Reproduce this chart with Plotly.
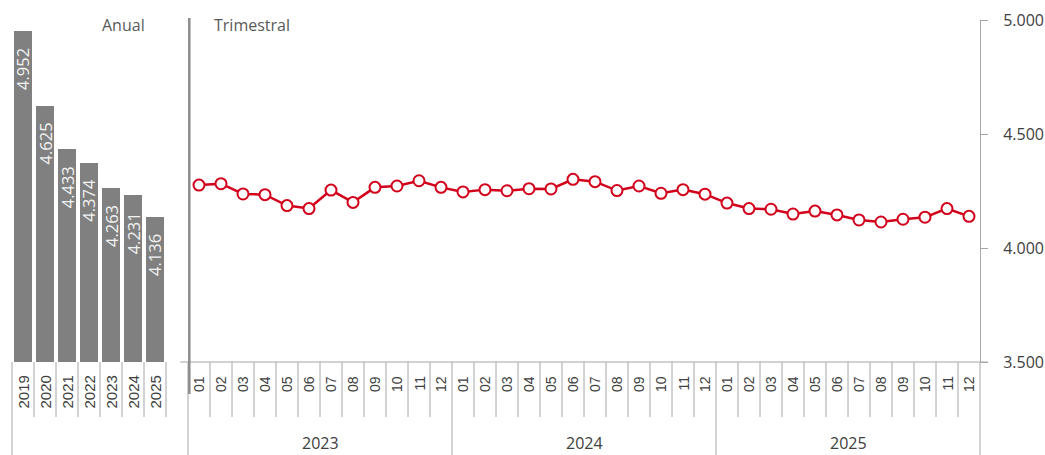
import plotly.graph_objects as go

# ---- data ----
annual_years = ["2019", "2020", "2021", "2022", "2023", "2024", "2025"]
annual_values = [4952, 4625, 4433, 4374, 4263, 4231, 4136]

group_years = ["2023", "2024", "2025"]
months = ["01", "02", "03", "04", "05", "06", "07", "08", "09", "10", "11", "12"]
monthly_values = [
    4276, 4282, 4237, 4234, 4186, 4173, 4254, 4200, 4266, 4272, 4295, 4266,
    4246, 4256, 4251, 4260, 4259, 4301, 4291, 4252, 4272, 4240, 4256, 4236,
    4197, 4173, 4170, 4149, 4162, 4145, 4123, 4114, 4126, 4135, 4173, 4139,
]
y_ticks = [3500, 4000, 4500, 5000]
section_titles = ["Anual", "Trimestral"]

# ---- positions (category slots) ----
n_annual_slots = len(annual_years) + 1          # one empty slot after the annual bars
x_annual = list(range(len(annual_years)))
x_monthly = [n_annual_slots + i for i in range(len(monthly_values))]
n_slots = n_annual_slots + len(monthly_values)
month_labels = months * len(group_years)

RED = "#d2001b"
GREY_TXT = "#404040"
TICK_C = "#a6a6a6"

def xp(v):  # data x (slot coordinate) -> paper fraction
    return (v + 0.5) / n_slots

fig = go.Figure()

fig.add_trace(go.Bar(
    x=x_annual, y=annual_values,
    marker=dict(color="#808080", line=dict(width=0)),
    width=0.78,
    hoverinfo="skip", showlegend=False,
))

fig.add_trace(go.Scatter(
    x=x_monthly, y=monthly_values, mode="lines+markers",
    line=dict(color=RED, width=2.5),
    marker=dict(size=11, color="white", line=dict(color=RED, width=2)),
    showlegend=False, hoverinfo="skip",
))

shapes = []
annotations = []

PH = 342.0
def yp(px_below):  # pixels below plot bottom -> paper y
    return -px_below / PH

# bar value labels (rotated, inside top of bars)
for x, v in zip(x_annual, annual_values):
    annotations.append(dict(x=x, y=v, xref="x", yref="y", yshift=-38,
                            text=f"{v:,}".replace(",", "."), textangle=-90, showarrow=False,
                            xanchor="center", yanchor="middle", borderpad=0,
                            font=dict(family="Open Sans", size=16.5, color="#f2f2f2")))

# category tick lines
for b in range(n_slots + 1):
    bx = b - 0.5
    is_group = (b == 0) or (b == n_annual_slots) or (b >= n_annual_slots and (b - n_annual_slots) % 12 == 0)
    shapes.append(dict(type="line", xref="paper", yref="paper",
                       x0=xp(bx), x1=xp(bx), y0=0, y1=yp(93 if is_group else 55),
                       line=dict(color=TICK_C, width=1)))

# x axis baseline in the monthly section
shapes.append(dict(type="line", xref="paper", yref="paper",
                   x0=xp(n_annual_slots - 0.5) - 0.008, x1=1.008, y0=0, y1=0,
                   line=dict(color=TICK_C, width=1)))

# thick separator between annual and monthly
sep = xp(n_annual_slots - 0.5) + 1.3 / 968
shapes.append(dict(type="line", xref="paper", yref="paper",
                   x0=sep, x1=sep, y0=yp(-344), y1=yp(32),
                   line=dict(color="#8c8c8c", width=2.5)))

# tick labels
for x, lab in zip(x_annual, annual_years):
    annotations.append(dict(x=xp(x), y=yp(13), xref="paper", yref="paper",
                            text=lab, textangle=-90, showarrow=False,
                            xanchor="center", yanchor="top", borderpad=0,
                            font=dict(family="Liberation Sans", size=15, color=GREY_TXT)))
for x, lab in zip(x_monthly, month_labels):
    annotations.append(dict(x=xp(x), y=yp(13), xref="paper", yref="paper",
                            text=lab, textangle=-90, showarrow=False,
                            xanchor="center", yanchor="top", borderpad=0,
                            font=dict(family="Liberation Sans", size=14, color=GREY_TXT)))
for gi, gy in enumerate(group_years):
    cx = n_annual_slots + gi * 12 + 5.5
    annotations.append(dict(x=xp(cx), y=yp(81), xref="paper", yref="paper",
                            text=gy, showarrow=False, xanchor="center", yanchor="middle",
                            font=dict(family="Open Sans", size=16, color=GREY_TXT)))

# section titles
annotations.append(dict(x=(147 - 12) / 968, y=yp(-337), xref="paper", yref="paper",
                        text=section_titles[0], showarrow=False, xanchor="right", yanchor="middle",
                        font=dict(family="Open Sans", size=16, color="#595959")))
annotations.append(dict(x=(212 - 12) / 968, y=yp(-337), xref="paper", yref="paper",
                        text=section_titles[1], showarrow=False, xanchor="left", yanchor="middle",
                        font=dict(family="Open Sans", size=16, color="#595959")))

fig.update_layout(
    template="none",
    width=1045, height=455,
    margin=dict(l=12, r=65, t=20, b=93),
    paper_bgcolor="white", plot_bgcolor="white",
    separators=",.",
    shapes=shapes, annotations=annotations,
    bargap=0,
    xaxis=dict(range=[-0.5, n_slots - 0.5], showticklabels=False, showgrid=False,
               zeroline=False, showline=False, ticks="", fixedrange=True, automargin=False),
    yaxis=dict(range=[y_ticks[0], y_ticks[-1]], side="right", tickvals=y_ticks,
               tickformat=",d", showgrid=False, zeroline=False, automargin=False,
               showline=True, linecolor=TICK_C, linewidth=1,
               ticks="outside", ticklen=7, tickcolor=TICK_C, ticklabelstandoff=12,
               tickfont=dict(family="Open Sans", size=16, color=GREY_TXT)),
    font=dict(family="Open Sans"),
)

fig.write_html("out.html", config={"displayModeBar": False},
               post_script="document.body.style.margin='0';document.body.style.padding='0';")
